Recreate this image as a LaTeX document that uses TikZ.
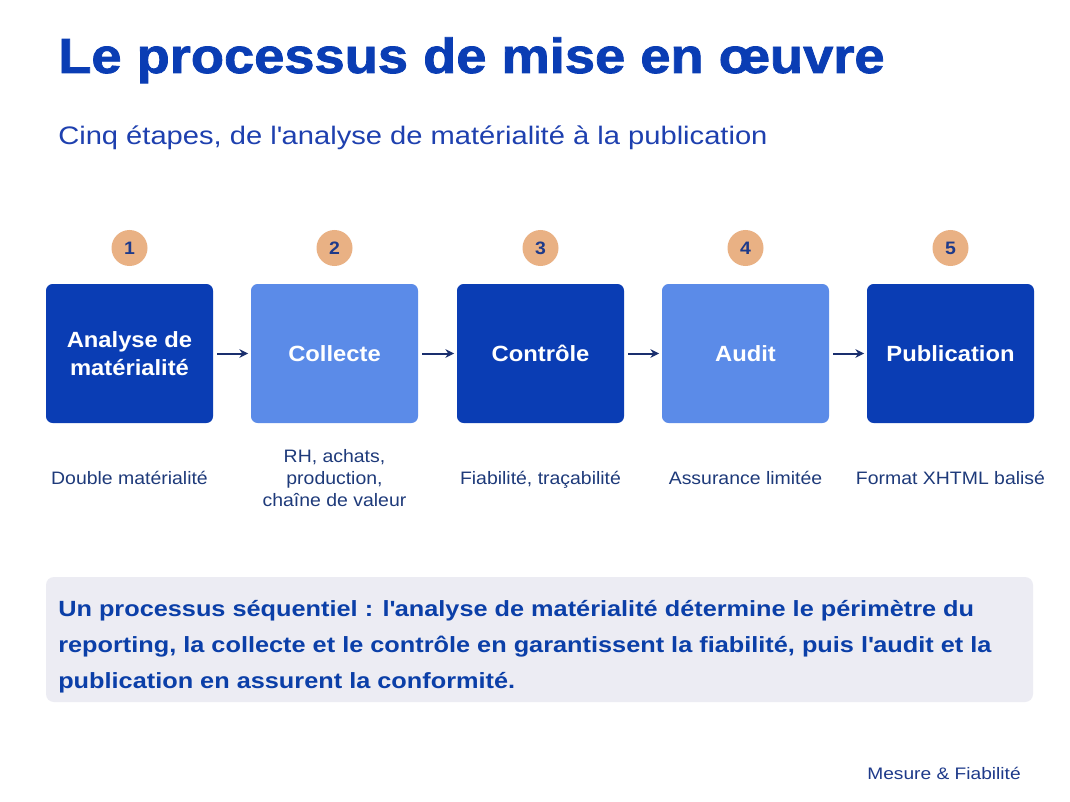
\documentclass[tikz,border=0pt]{standalone}
\usepackage{fontspec}
\setmainfont{Liberation Sans}[FakeStretch=1.08]
\newfontfamily\widefont{Liberation Sans}[FakeStretch=1.15]
\newfontfamily\titlefont{Liberation Sans}[FakeStretch=1.1, BoldFeatures={FakeBold=1.6}]
\usetikzlibrary{arrows.meta}
\definecolor{darkbox}{HTML}{0A3DB4}
\definecolor{lightbox}{HTML}{5B8BE8}
\definecolor{peach}{HTML}{E9B184}
\definecolor{numcol}{HTML}{1E3A8A}
\definecolor{titlecol}{HTML}{0A3DB4}
\definecolor{subcol}{HTML}{1E40AF}
\definecolor{desccol}{HTML}{1E3A7A}
\definecolor{notefill}{HTML}{ECECF3}
\definecolor{notetext}{HTML}{0B3FA8}
\definecolor{arrowcol}{HTML}{1A2F6E}
\tikzset{
  stepbox/.style={rounded corners=5pt, minimum width=125.25pt, minimum height=104.25pt, inner sep=0pt, text=white, font=\bfseries\fontsize{16.5}{20.5}\selectfont, align=center},
  darkstep/.style={stepbox, fill=darkbox},
  lightstep/.style={stepbox, fill=lightbox},
  numdisc/.style={circle, fill=peach, minimum size=27pt, inner sep=0pt, text=numcol, font=\bfseries\fontsize{13.5}{15}\selectfont},
  desc/.style={text=desccol, font=\fontsize{13.5}{16.5}\selectfont, align=center, inner sep=0pt, anchor=base},
  flow/.style={draw=arrowcol, line width=1.5pt, -{Stealth[length=6.5pt,width=6.5pt]}}
}
\begin{document}
\begin{tikzpicture}[x=0.75pt,y=-0.75pt]
\useasboundingbox (0,0) rectangle (1070,802);
\fill[white] (0,0) rectangle (1070,802);
\node[anchor=base west, inner sep=0pt, text=titlecol, font=\titlefont\bfseries\fontsize{37}{44}\selectfont] (title) at (58,73) {Le processus de mise en œuvre};
\node[anchor=base west, inner sep=0pt, text=subcol, font=\widefont\fontsize{19}{23}\selectfont] (subtitle) at (58,145) {Cinq étapes, de l\textquotesingle analyse de matérialité à la publication};
\node[darkstep] (b1) at (129.5,353.5) {Analyse de\\matérialité};
\node[lightstep] (b2) at (334.5,353.5) {Collecte};
\node[darkstep] (b3) at (540.5,353.5) {Contrôle};
\node[lightstep] (b4) at (745.5,353.5) {Audit};
\node[darkstep] (b5) at (950.5,353.5) {Publication};
\foreach \i/\x in {1/129.5,2/334.5,3/540.5,4/745.5,5/950.5}{
  \node[numdisc] (n\i) at (\x,248) {\i};
}
\draw[flow] ([xshift=3pt]b1.east) -- ([xshift=-2pt]b2.west);
\draw[flow] ([xshift=3pt]b2.east) -- ([xshift=-2pt]b3.west);
\draw[flow] ([xshift=3pt]b3.east) -- ([xshift=-2pt]b4.west);
\draw[flow] ([xshift=3pt]b4.east) -- ([xshift=-2pt]b5.west);
\node[desc] (d1) at (129.5,484) {Double matérialité};
\node[desc] (d2) at (334.5,506) {RH, achats,\\production,\\chaîne de valeur};
\node[desc] (d3) at (540.5,484) {Fiabilité, traçabilité};
\node[desc] (d4) at (745.5,484) {Assurance limitée};
\node[desc] (d5) at (950.5,484) {Format XHTML balisé};
\fill[notefill, rounded corners=6pt] (46,577) rectangle (1033,702);
\node[anchor=west, inner sep=0pt, text=notetext, align=left, font=\widefont\bfseries\fontsize{16.5}{27}\selectfont] (note) at (58,647) {Un processus séquentiel : l\textquotesingle analyse de matérialité détermine le périmètre du\\reporting, la collecte et le contrôle en garantissent la fiabilité, puis l\textquotesingle audit et la\\publication en assurent la conformité.};
\node[anchor=east, inner sep=0pt, text=numcol, font=\widefont\fontsize{12.5}{15}\selectfont] (footer) at (1021,773) {Mesure \& Fiabilité};
\end{tikzpicture}
\end{document}
